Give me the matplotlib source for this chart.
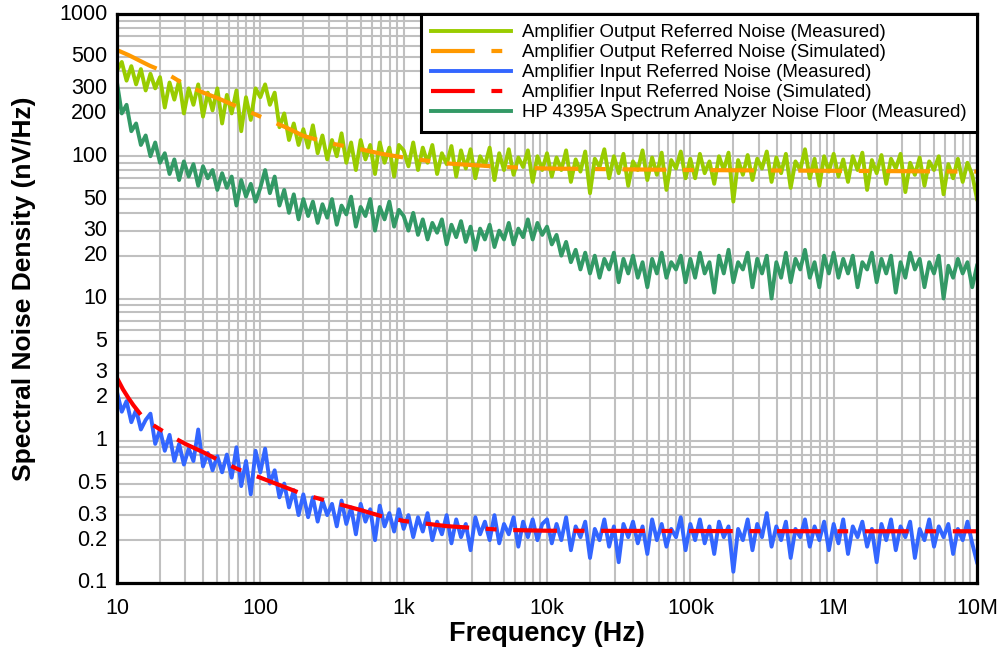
import numpy as np
import matplotlib
matplotlib.use("Agg")
import matplotlib.pyplot as plt
from matplotlib.ticker import FixedLocator, NullFormatter, LogLocator

# ---------------- data ----------------
# Measured sweep: 30 points per decade from 10 Hz to 10 MHz
freq_meas = np.logspace(1, 7, 181)

out_meas = [
    400, 460, 340, 430, 320, 410, 290, 380, 300, 360, 220, 330, 250, 340, 200, 300, 230, 320, 190, 280,
    210, 300, 170, 270, 200, 290, 150, 260, 180, 300,
    260, 320, 230, 280, 160, 200, 130, 170, 120, 155, 115, 165, 105, 140, 95, 130, 100, 145, 90, 125,
    80, 130, 95, 120, 75, 125, 90, 115, 72, 120,
    110, 85, 125, 80, 115, 90, 120, 75, 105, 88, 118, 72, 110, 82, 112, 70, 100, 86, 115, 68,
    105, 80, 112, 74, 98, 84, 110, 66, 100, 80,
    105, 72, 98, 80, 110, 66, 95, 78, 108, 55, 96, 84, 112, 70, 100, 76, 104, 62, 92, 80,
    110, 68, 98, 74, 106, 58, 94, 82, 108, 70,
    96, 70, 104, 76, 92, 64, 100, 80, 106, 48, 94, 74, 102, 68, 96, 82, 108, 66, 98, 76,
    104, 60, 92, 80, 112, 70, 96, 62, 100, 78,
    104, 72, 95, 66, 100, 80, 106, 58, 94, 76, 102, 64, 96, 82, 104, 56, 90, 74, 98, 62,
    92, 80, 100, 54, 88, 70, 96, 66, 90, 74, 50,
]

floor_meas = [
    330, 200, 230, 150, 170, 120, 140, 100, 125, 90, 105, 75, 95, 68, 92, 72, 88, 62, 85, 70,
    80, 58, 76, 60, 72, 45, 68, 52, 64, 48,
    60, 80, 55, 72, 45, 58, 40, 54, 36, 50, 38, 48, 34, 46, 37, 50, 33, 45, 39, 52,
    32, 44, 38, 50, 30, 44, 36, 48, 32, 42,
    38, 30, 40, 28, 36, 26, 34, 29, 36, 24, 33, 27, 35, 25, 32, 22, 31, 26, 33, 23,
    30, 26, 34, 24, 31, 27, 36, 26, 34, 28,
    32, 24, 28, 20, 25, 18, 22, 16, 21, 15, 20, 14, 19, 16, 21, 13, 19, 15, 20, 14,
    18, 12, 19, 15, 21, 14, 18, 16, 20, 13,
    19, 14, 21, 15, 18, 11, 20, 15, 22, 13, 18, 16, 21, 12, 19, 15, 20, 10, 18, 14,
    21, 13, 19, 16, 22, 14, 18, 12, 20, 15,
    21, 14, 19, 15, 20, 12, 18, 16, 21, 13, 19, 15, 20, 11, 18, 14, 21, 16, 19, 12,
    18, 15, 20, 10, 17, 14, 19, 15, 18, 12, 17,
]

in_meas = [
    2.2, 1.6, 1.9, 1.35, 1.65, 1.2, 1.4, 1.55, 0.95, 1.2, 0.85, 1.1, 0.72, 0.95, 0.68, 0.88, 0.72, 1.2, 0.66, 0.82,
    0.62, 0.78, 0.6, 0.8, 0.55, 0.9, 0.48, 0.72, 0.42, 0.85,
    0.6, 0.88, 0.5, 0.62, 0.4, 0.5, 0.34, 0.45, 0.3, 0.42, 0.29, 0.4, 0.27, 0.38, 0.3, 0.36, 0.25, 0.38, 0.26, 0.34,
    0.22, 0.36, 0.27, 0.33, 0.2, 0.35, 0.25, 0.31, 0.23, 0.33,
    0.24, 0.3, 0.21, 0.29, 0.23, 0.31, 0.2, 0.27, 0.22, 0.3, 0.19, 0.28, 0.21, 0.26, 0.17, 0.29, 0.22, 0.27, 0.2, 0.3,
    0.19, 0.26, 0.22, 0.29, 0.18, 0.27, 0.21, 0.28, 0.2, 0.26,
    0.28, 0.19, 0.26, 0.2, 0.29, 0.17, 0.25, 0.21, 0.27, 0.15, 0.24, 0.2, 0.28, 0.18, 0.25, 0.14, 0.26, 0.21, 0.27, 0.19,
    0.25, 0.16, 0.28, 0.2, 0.26, 0.18, 0.24, 0.21, 0.29, 0.17,
    0.26, 0.2, 0.28, 0.19, 0.25, 0.16, 0.27, 0.21, 0.25, 0.12, 0.24, 0.2, 0.28, 0.17, 0.26, 0.21, 0.31, 0.18, 0.25, 0.2,
    0.27, 0.15, 0.24, 0.21, 0.28, 0.18, 0.25, 0.2, 0.27, 0.17,
    0.26, 0.19, 0.28, 0.16, 0.25, 0.21, 0.27, 0.18, 0.24, 0.14, 0.26, 0.2, 0.28, 0.17, 0.25, 0.21, 0.27, 0.15, 0.24, 0.2,
    0.28, 0.18, 0.25, 0.21, 0.26, 0.16, 0.24, 0.2, 0.27, 0.19, 0.14,
]

# Simulated curves
freq_sim = [10, 11, 12, 13, 15, 17, 20, 25, 30, 40, 50, 70, 100, 150, 200, 300, 500, 700,
            1e3, 2e3, 5e3, 1e4, 1e5, 1e6, 1e7]
out_sim = [558, 535, 515, 495, 460, 432, 404, 355, 317, 280, 257, 222, 190, 160, 139, 124, 112, 104,
           98, 89, 84, 82, 80, 79, 78]
in_sim = [2.76, 2.3, 2.0, 1.78, 1.48, 1.33, 1.2, 1.05, 0.95, 0.83, 0.74, 0.63, 0.55, 0.47, 0.42, 0.375,
          0.326, 0.295, 0.273, 0.251, 0.236, 0.233, 0.232, 0.231, 0.231]

labels = [
    "Amplifier Output Referred Noise (Measured)",
    "Amplifier Output Referred Noise (Simulated)",
    "Amplifier Input Referred Noise (Measured)",
    "Amplifier Input Referred Noise (Simulated)",
    "HP 4395A Spectrum Analyzer Noise Floor (Measured)",
]
colors = ["#99CC00", "#FF9900", "#3366FF", "#FF0000", "#339966"]

y_ticks = [0.1, 0.2, 0.3, 0.5, 1, 2, 3, 5, 10, 20, 30, 50, 100, 200, 300, 500, 1000]
y_ticklabels = ["0.1", "0.2", "0.3", "0.5", "1", "2", "3", "5", "10", "20", "30", "50",
                "100", "200", "300", "500", "1000"]
x_ticks = [10, 100, 1e3, 1e4, 1e5, 1e6, 1e7]
x_ticklabels = ["10", "100", "1k", "10k", "100k", "1M", "10M"]

# ---------------- plotting ----------------
plt.rcParams['font.family'] = ['Liberation Sans', 'DejaVu Sans']

fig = plt.figure(figsize=(10.01, 6.5), dpi=100)
ax = fig.add_axes([117 / 1001, 1 - 583 / 650, (977 - 117) / 1001, (583 - 14) / 650])

ax.set_xscale('log')
ax.set_yscale('log')
ax.set_xlim(10, 1e7)
ax.set_ylim(0.1, 1000)

dash = (10.5, 4, 2.6, 4)
ax.plot(freq_meas, out_meas, color=colors[0], lw=2.8, label=labels[0], zorder=3)
ax.plot(freq_sim, out_sim, color=colors[1], lw=3, dashes=dash, label=labels[1], zorder=4,
        dash_capstyle='butt')
ax.plot(freq_meas, in_meas, color=colors[2], lw=2.8, label=labels[2], zorder=3)
ax.plot(freq_sim, in_sim, color=colors[3], lw=3, dashes=dash, label=labels[3], zorder=4,
        dash_capstyle='butt')
ax.plot(freq_meas, floor_meas, color=colors[4], lw=2.8, label=labels[4], zorder=3)

# grid (major + minor)
ax.xaxis.set_major_locator(FixedLocator(x_ticks))
ax.xaxis.set_minor_locator(LogLocator(base=10, subs=np.arange(2, 10)))
ax.yaxis.set_major_locator(LogLocator(base=10, subs=np.arange(1, 10), numticks=20))
ax.yaxis.set_minor_locator(FixedLocator([]))
ax.grid(True, which='both', color='#C0C0C0', lw=1.5, zorder=0)
ax.set_axisbelow(True)

ax.xaxis.set_minor_formatter(NullFormatter())
ax.set_xticklabels(x_ticklabels)
ax.yaxis.set_major_formatter(NullFormatter())
for yv, yl in zip(y_ticks, y_ticklabels):
    ax.text(-0.011, yv, yl, transform=ax.get_yaxis_transform(), ha='right', va='center',
            fontsize=15.5)

ax.tick_params(axis='both', which='both', length=0)
ax.tick_params(axis='x', labelsize=15.5, pad=11)

for s in ax.spines.values():
    s.set_linewidth(2.3)
    s.set_color('black')
    s.set_zorder(6)

fig.text(547 / 1001, 1 - 634 / 650, "Frequency (Hz)", ha='center', va='center',
         fontsize=19.5, fontweight='bold')
fig.text(24 / 1001, 1 - 289 / 650, "Spectral Noise Density (nV/Hz)", rotation=90,
         ha='center', va='center', fontsize=19, fontweight='bold')

leg = ax.legend(loc='upper right', bbox_to_anchor=(1.0, 1.0), borderaxespad=0,
                fontsize=13.4, handlelength=4.3, handletextpad=0.6, labelspacing=0.16,
                borderpad=0.55, fancybox=False, framealpha=1, edgecolor='black')
leg.get_frame().set_linewidth(2.2)
leg.set_zorder(10)

fig.savefig("out.png", dpi=100)
